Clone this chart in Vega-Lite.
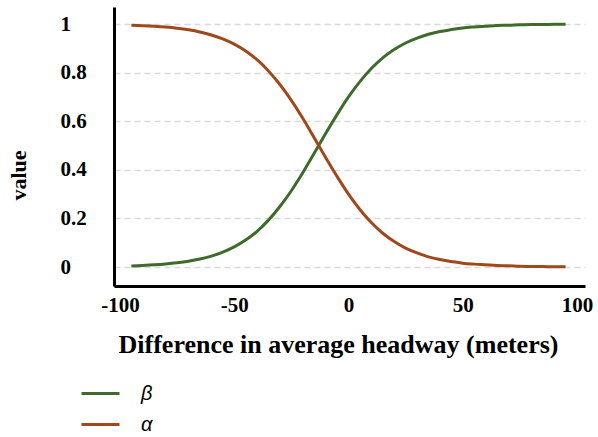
{
  "$schema": "https://vega.github.io/schema/vega-lite/v6.json",
  "autosize": "none",
  "width": 471,
  "height": 279,
  "padding": {"left": 114, "top": 7, "right": 13, "bottom": 151},
  "background": "white",
  "config": {"view": {"stroke": null}},
  "data": {"values": [
    {"x": -95, "beta": 0.0048}, {"x": -90, "beta": 0.0067}, {"x": -85, "beta": 0.0092}, {"x": -80, "beta": 0.0127},
    {"x": -75, "beta": 0.0175}, {"x": -70, "beta": 0.024}, {"x": -65, "beta": 0.0329}, {"x": -60, "beta": 0.045},
    {"x": -55, "beta": 0.0612}, {"x": -50, "beta": 0.0828}, {"x": -45, "beta": 0.111}, {"x": -40, "beta": 0.147},
    {"x": -35, "beta": 0.193}, {"x": -30, "beta": 0.249}, {"x": -25, "beta": 0.314}, {"x": -20, "beta": 0.388},
    {"x": -15, "beta": 0.468}, {"x": -10, "beta": 0.549}, {"x": -5, "beta": 0.627}, {"x": 0, "beta": 0.700},
    {"x": 5, "beta": 0.763}, {"x": 10, "beta": 0.817}, {"x": 15, "beta": 0.861}, {"x": 20, "beta": 0.895},
    {"x": 25, "beta": 0.922}, {"x": 30, "beta": 0.942}, {"x": 35, "beta": 0.958}, {"x": 40, "beta": 0.969},
    {"x": 45, "beta": 0.977}, {"x": 50, "beta": 0.984}, {"x": 55, "beta": 0.988}, {"x": 60, "beta": 0.991},
    {"x": 65, "beta": 0.994}, {"x": 70, "beta": 0.995}, {"x": 75, "beta": 0.997}, {"x": 80, "beta": 0.998},
    {"x": 85, "beta": 0.998}, {"x": 90, "beta": 0.999}, {"x": 95, "beta": 0.999}
  ]},
  "transform": [
    {"calculate": "1 - datum.beta", "as": "alpha"},
    {"fold": ["beta", "alpha"], "as": ["key", "value"]},
    {"calculate": "datum.key === 'beta' ? 'β' : 'α'", "as": "series"}
  ],
  "mark": {"type": "line", "strokeWidth": 3, "interpolate": "monotone"},
  "encoding": {
    "x": {
      "field": "x", "type": "quantitative",
      "scale": {"domain": [-102.6, 103.5], "nice": false, "zero": false},
      "axis": {
        "values": [-100, -50, 0, 50, 100], "grid": false, "ticks": false,
        "labelExpr": "datum.value + ''",
        "domainColor": "black", "domainWidth": 3,
        "labelFont": "Liberation Serif", "labelFontWeight": "bold", "labelFontSize": 21, "labelColor": "black",
        "labelPadding": 8, "labelFlush": false,
        "title": "Difference in average headway (meters)",
        "titleFont": "Liberation Serif", "titleFontWeight": "bold", "titleFontSize": 26, "titleColor": "black",
        "titlePadding": 16, "titleX": 224
      }
    },
    "y": {
      "field": "value", "type": "quantitative",
      "scale": {"domain": [-0.078, 1.07], "nice": false, "zero": false},
      "axis": {
        "values": [0, 0.2, 0.4, 0.6, 0.8, 1], "grid": true, "gridColor": "#d9d9d9", "gridDash": [6, 4], "gridWidth": 1.5,
        "labelExpr": "datum.value + ''",
        "ticks": false, "domainColor": "black", "domainWidth": 3,
        "labelFont": "Liberation Serif", "labelFontWeight": "bold", "labelFontSize": 21, "labelColor": "black",
        "labelAlign": "left", "labelPadding": 54,
        "title": "value", "titleFont": "Liberation Serif", "titleFontWeight": "bold", "titleFontSize": 22, "titleColor": "black",
        "titlePadding": 30, "titleY": 168
      }
    },
    "color": {
      "field": "series", "type": "nominal",
      "scale": {"domain": ["β", "α"], "range": ["#3e6b2c", "#a0481c"]},
      "legend": {
        "title": null, "orient": "none", "legendX": -34, "legendY": 366,
        "symbolType": "stroke", "symbolSize": 1444, "symbolStrokeWidth": 3,
        "labelFont": "Liberation Sans", "labelFontStyle": "italic", "labelFontSize": 20, "labelColor": "black",
        "labelOffset": 20, "rowPadding": -9
      }
    }
  }
}
